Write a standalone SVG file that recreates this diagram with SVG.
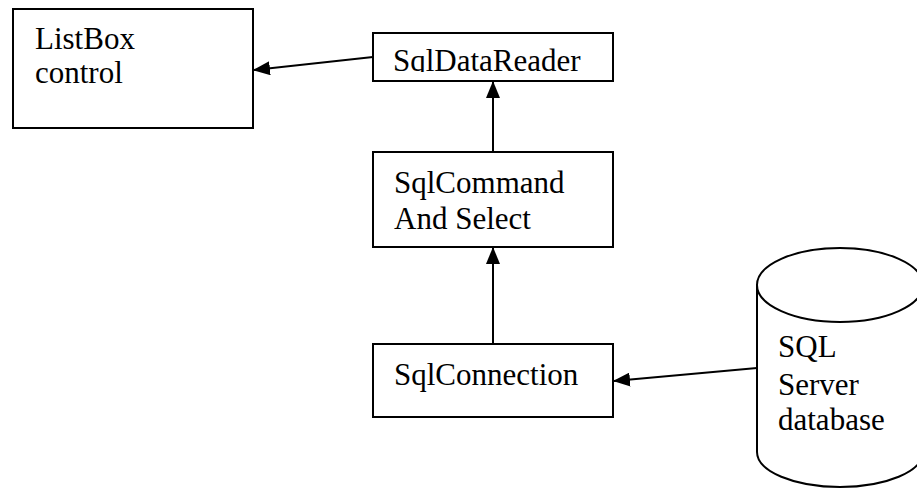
<svg xmlns="http://www.w3.org/2000/svg" width="917" height="489" viewBox="0 0 917 489">
<style>
.box{fill:#fff;stroke:#000;stroke-width:2}
.t{font-family:"Liberation Serif","Times New Roman",serif;font-size:31px;fill:#000}
.c{fill:none;stroke:#000;stroke-width:2}
</style>
<defs>
<marker id="ah" markerWidth="17" markerHeight="14" refX="16" refY="7" orient="auto" markerUnits="userSpaceOnUse">
<path d="M0,0 L17,7 L0,14 Z" fill="#000"/>
</marker>
<clipPath id="clipR"><rect x="373" y="33" width="240" height="39"/></clipPath>
</defs>
<rect width="917" height="489" fill="#fff"/>
<g id="listbox">
<rect class="box" x="13" y="9" width="240" height="119"/>
<text class="t" x="35" y="49">ListBox</text>
<text class="t" x="35" y="83">control</text>
</g>
<g id="sqldatareader">
<rect class="box" x="373" y="33" width="240" height="48"/>
<text class="t" x="393" y="71" clip-path="url(#clipR)">SqlDataReader</text>
</g>
<g id="sqlcommand">
<rect class="box" x="373" y="152" width="240" height="95"/>
<text class="t" x="394" y="193">SqlCommand</text>
<text class="t" x="394" y="229">And Select</text>
</g>
<g id="sqlconnection">
<rect class="box" x="373" y="344" width="240" height="73"/>
<text class="t" x="394" y="385">SqlConnection</text>
</g>
<g id="database">
<path class="box" d="M757,284 L757,452 A83,35 0 0 0 923,452 L923,284"/>
<ellipse class="box" cx="840" cy="285" rx="83" ry="37"/>
<text class="t" x="778" y="357">SQL</text>
<text class="t" x="778" y="395">Server</text>
<text class="t" x="778" y="430">database</text>
</g>
<g id="connectors">
<line class="c" x1="373" y1="57" x2="254" y2="70" marker-end="url(#ah)"/>
<line class="c" x1="493" y1="152" x2="493" y2="82" marker-end="url(#ah)"/>
<line class="c" x1="493" y1="344" x2="493" y2="248" marker-end="url(#ah)"/>
<line class="c" x1="757" y1="368" x2="614" y2="381" marker-end="url(#ah)"/>
</g>
</svg>
